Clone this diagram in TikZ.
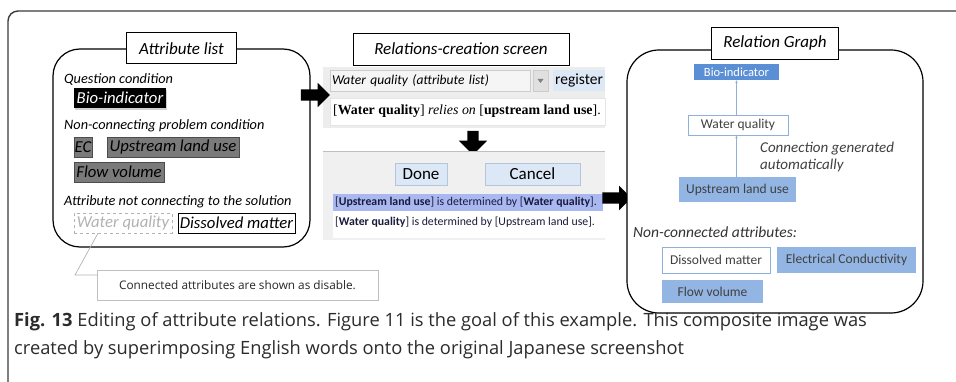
\documentclass[tikz,border=0pt]{standalone}
\usepackage{fontspec}
\setmainfont{Carlito}
\newfontfamily\camfont{Liberation Serif}
\newfontfamily\capfont{Open Sans}
\usetikzlibrary{positioning,shapes.arrows,shadows,arrows.meta}

\definecolor{framegray}{HTML}{3A3A3A}
\definecolor{attrgray}{HTML}{7A7A7A}
\definecolor{screengray}{HTML}{EDEDED}
\definecolor{dialoggray}{HTML}{F0F0F0}
\definecolor{btnblue}{HTML}{DCE8F5}
\definecolor{btnedge}{HTML}{B4C6DC}
\definecolor{selblue}{HTML}{AAB8F2}
\definecolor{listink}{HTML}{1A1A3A}
\definecolor{nodeblue}{HTML}{5B8FD5}
\definecolor{nodelight}{HTML}{93B5E3}
\definecolor{nodeedge}{HTML}{8FB0DC}
\definecolor{captionink}{HTML}{2B2B2B}

\tikzset{
  panel/.style={draw=black, line width=1.2pt, fill=white},
  titlebox/.style={draw=black, line width=0.9pt, fill=white, inner sep=0pt,
    font={\fontsize{17}{20}\selectfont\itshape}},
  grouplabel/.style={anchor=west, inner sep=0pt,
    font={\fontsize{14.3}{17}\selectfont\itshape}},
  attrbox/.style={inner sep=0pt, minimum height=20pt,
    font={\fontsize{16.7}{19}\selectfont\itshape}},
  blackattr/.style={attrbox, fill=black, text=white,
    drop shadow={opacity=0.35, shadow xshift=1pt, shadow yshift=-2pt}},
  grayattr/.style={attrbox, fill=attrgray, draw=black!70, text=black},
  offattr/.style={attrbox, draw=black!30, dashed, text=black!30},
  lineattr/.style={attrbox, draw=black, line width=0.8pt, fill=white},
  blockarrow/.style={single arrow, fill=black, inner sep=5.5pt,
    minimum height=29pt, single arrow head extend=6.5pt},
  uibutton/.style={fill=btnblue, draw=btnedge, inner sep=0pt,
    font={\fontsize{17}{20}\selectfont}},
  gnode/.style={inner sep=0pt, font={\fontsize{13.5}{16}\selectfont}, text=black!75},
  gdark/.style={gnode, fill=nodeblue, text=white, font={\fontsize{12.5}{15}\selectfont}},
  glight/.style={gnode, fill=nodelight},
  gwhite/.style={gnode, fill=white, draw=nodeedge, line width=0.8pt},
  glink/.style={draw=nodeedge, line width=0.6pt, -{Stealth[length=3pt,width=2.5pt]}},
  listline/.style={anchor=west, inner sep=0pt, text=listink,
    font={\fontsize{11.8}{14}\selectfont}},
  captionline/.style={anchor=west, inner sep=0pt, text=captionink,
    font={\capfont\fontsize{18.3}{22}\selectfont}}
}

\begin{document}
\begin{tikzpicture}[x=1pt,y=-1pt]
  \useasboundingbox (0,0) rectangle (956,382);
  \draw[framegray, line width=1.4pt, rounded corners=10pt] (956,11) -- (8,11) -- (8,382);

  % attribute list
  \node[panel, minimum width=257pt, minimum height=198pt, rounded corners=27pt] (attrpanel) at (181.5,148) {};
  \node[titlebox, minimum width=110pt, minimum height=31pt] (attrtitle) at (attrpanel.north) {Attribute list};
  \node[grouplabel] (qlabel) at (64,79) {Question condition};
  \node[blackattr, minimum width=92pt] (bioattr) at (120,98) {Bio-indicator};
  \node[grouplabel] (nlabel) at (64,126) {Non-connecting problem condition};
  \node[grayattr, minimum width=18pt] (ecattr) at (83,147) {EC};
  \node[grayattr, minimum width=132pt] (upattr) at (173,147) {Upstream land use};
  \node[grayattr, minimum width=90pt] (flowattr) at (119,172) {Flow volume};
  \node[grouplabel] (alabel) at (64,202) {Attribute not connecting to the solution};
  \node[offattr, minimum width=98pt] (wqattr) at (123,223) {Water quality};
  \node[lineattr, minimum width=117pt] (dmattr) at (236.5,223) {Dissolved matter};

  % note on the disabled attribute
  \node[draw=black!25, fill=white, inner sep=0pt, minimum width=281pt, minimum height=30pt,
    font={\capfont\fontsize{11.8}{14}\selectfont}, text=black!85] (disnote) at (237.5,285) {Connected attributes are shown as disable.};
  \coordinate (notebend) at (75,275);
  \draw[black!30, line width=0.7pt] ([xshift=-25pt]wqattr.south) -- (notebend) -- (disnote.west |- notebend);

  % relations-creation screen
  \node[titlebox, minimum width=216pt, minimum height=32pt] (reltitle) at (461,49) {Relations-creation screen};
  \node[fill=screengray, minimum width=282pt, minimum height=61pt, inner sep=0pt] (topscreen) at (464,97.5) {};
  \node[fill=black!4, draw=black!20, minimum width=200pt, minimum height=21pt, inner sep=2pt,
    text width=196pt, align=left, font={\fontsize{13.5}{16}\selectfont\itshape}] (combo) at (430,80.5) {Water quality (attribute list)};
  \node[fill=black!12, draw=black!20, minimum width=15pt, minimum height=21pt, inner sep=0pt] (dropbtn) at (540.5,80.5) {};
  \fill[black!50] (537.5,79) -- (543.5,79) -- (540.5,83) -- cycle;
  \node[fill=btnblue, minimum width=52pt, minimum height=21pt, inner sep=0pt,
    font={\fontsize{15.5}{18}\selectfont}] (regbtn) at (579,80.5) {register};
  \node[fill=white, draw=black!10, minimum width=275pt, minimum height=27pt, inner sep=0pt] (relfield) at (467.5,111.5) {};
  \node[anchor=west, inner sep=0pt, font={\camfont\fontsize{13.9}{16}\selectfont}] (reltext) at (333,111.5)
    {[\textbf{Water quality}] \textit{relies on} [\textbf{upstream land use}].};
  \node[blockarrow, rotate=-90, minimum height=24pt, single arrow head extend=8.5pt] (downarr) at (473,140) {};

  \node[fill=dialoggray, minimum width=282pt, minimum height=88pt, inner sep=0pt] (dialog) at (464,196) {};
  \draw[black!25, line width=0.8pt] (dialog.north west) -- (dialog.north east);
  \node[uibutton, minimum width=52pt, minimum height=22pt] (donebtn) at (421,174) {Done};
  \node[uibutton, minimum width=95pt, minimum height=22pt] (cancelbtn) at (532.5,174) {Cancel};
  \node[fill=white, minimum width=272pt, minimum height=44pt, inner sep=0pt] (rellist) at (469,216) {};
  \node[fill=selblue, minimum width=270pt, minimum height=17pt, inner sep=0pt] (selrow) at (468,202.5) {};
  \node[listline] (listone) at (335,202.5) {[\textbf{Upstream land use}] is determined by [\textbf{Water quality}].};
  \node[listline] (listtwo) at (335,222.5) {[\textbf{Water quality}] is determined by [Upstream land use].};

  % arrows between the screens
  \node[blockarrow] (rightarrA) at (312.5,95) {};
  \node[blockarrow] (rightarrB) at (614,198) {};

  % relation graph
  \node[panel, minimum width=296pt, minimum height=263pt, rounded corners=32pt] (graphpanel) at (775,181.5) {};
  \node[titlebox, minimum width=127pt, minimum height=32pt] (graphtitle) at ([yshift=6pt]graphpanel.north) {Relation Graph};
  \node[gdark, minimum width=85pt, minimum height=16pt] (gbio) at (736.5,72) {Bio-indicator};
  \node[gwhite, minimum width=100pt, minimum height=20pt] (gwater) at (738,125) {Water quality};
  \node[glight, minimum width=117pt, minimum height=25pt] (gup) at (737.5,189.5) {Upstream land use};
  \draw[glink] (gwater.north -| gbio.south) -- (gbio.south);
  \draw[glink] (gup.north -| gbio.south) -- (gwater.south -| gbio.south);
  \node[anchor=north west, inner sep=0pt, align=left, text=black!75,
    font={\fontsize{15}{17}\selectfont\itshape}] (gauto) at (760,142) {Connection generated\\automatically};
  \node[grouplabel, text=black!80, font={\fontsize{15.5}{18}\selectfont\itshape}] (gnonlabel) at (633,232) {Non-connected attributes:};
  \node[gwhite, minimum width=108pt, minimum height=26pt] (gdm) at (716,260) {Dissolved matter};
  \node[glight, minimum width=139pt, minimum height=26pt] (gec) at (846.5,260) {Electrical Conductivity};
  \node[glight, minimum width=101pt, minimum height=23pt] (gflow) at (712.5,291.5) {Flow volume};

  % caption
  \node[captionline] (capone) at (14,322)
    {\textbf{Fig. 13} Editing of attribute relations. Figure 11 is the goal of this example. This composite image was};
  \node[captionline] (captwo) at (14,350)
    {created by superimposing English words onto the original Japanese screenshot};
\end{tikzpicture}
\end{document}
